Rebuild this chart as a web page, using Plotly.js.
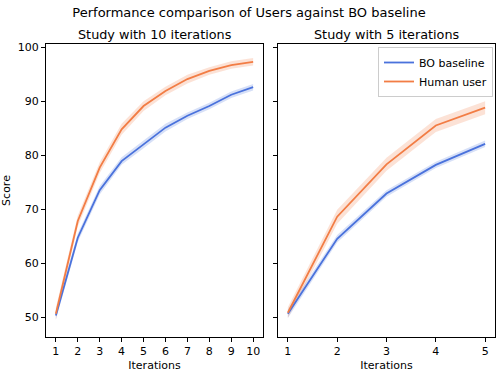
<!DOCTYPE html>
<html>
<head>
<meta charset="utf-8">
<script src="https://cdn.plot.ly/plotly-3.0.1.min.js"></script>
<style>
  body { margin: 0; }
  #chart { width: 498px; height: 374px; }
</style>
</head>
<body>
<div id="chart"></div>
<script>
// DATA
const iters10 = [1, 2, 3, 4, 5, 6, 7, 8, 9, 10]
const bo10 = [50.3, 64.7, 73.5, 78.9, 82.0, 85.1, 87.3, 89.1, 91.2, 92.6]
const bo10Err = [0.8, 0.8, 0.8, 0.7, 0.7, 0.7, 0.6, 0.6, 0.6, 0.6]
const human10 = [50.6, 67.8, 77.7, 84.8, 89.1, 91.9, 94.1, 95.6, 96.7, 97.3]
const human10Err = [1.1, 1.0, 1.0, 1.0, 0.9, 0.8, 0.8, 0.7, 0.7, 0.7]

const iters5 = [1, 2, 3, 4, 5]
const bo5 = [50.6, 64.5, 72.9, 78.2, 82.1]
const bo5Err = [0.8, 0.7, 0.6, 0.6, 0.6]
const human5 = [50.8, 68.6, 78.3, 85.5, 88.8]
const human5Err = [1.0, 1.3, 1.2, 1.2, 1.2]

const blue = '#4a72dc'
const orange = '#f27d45'
const blueFill = 'rgba(74,114,220,0.22)'
const orangeFill = 'rgba(242,125,69,0.22)'

function band(x, y, err, fillColor, xa, ya) {
  const upper = y.map((v, i) => v + err[i])
  const lower = y.map((v, i) => v - err[i])
  return [
    { x, y: upper, xaxis: xa, yaxis: ya, mode: 'lines', line: { width: 0 }, showlegend: false, hoverinfo: 'skip' },
    { x, y: lower, xaxis: xa, yaxis: ya, mode: 'lines', line: { width: 0 }, fill: 'tonexty', fillcolor: fillColor, showlegend: false, hoverinfo: 'skip' },
  ]
}

function line(x, y, color, name, xa, ya, legend) {
  return { x, y, xaxis: xa, yaxis: ya, mode: 'lines', name, line: { color, width: 1.8 }, showlegend: legend }
}

const traces = [
  ...band(iters10, bo10, bo10Err, blueFill, 'x', 'y'),
  ...band(iters10, human10, human10Err, orangeFill, 'x', 'y'),
  line(iters10, bo10, blue, 'BO baseline', 'x', 'y', true),
  line(iters10, human10, orange, 'Human user', 'x', 'y', true),
  ...band(iters5, bo5, bo5Err, blueFill, 'x2', 'y2'),
  ...band(iters5, human5, human5Err, orangeFill, 'x2', 'y2'),
  line(iters5, bo5, blue, 'BO baseline', 'x2', 'y2', false),
  line(iters5, human5, orange, 'Human user', 'x2', 'y2', false),
]

const axisStyle = {
  showline: true,
  mirror: true,
  linecolor: '#000',
  linewidth: 1,
  ticks: 'outside',
  ticklen: 4,
  tickcolor: '#000',
  showgrid: false,
  zeroline: false,
  tickfont: { size: 11, color: '#000' },
}

const yRange = [46.3, 100.6]

const layout = {
  width: 498,
  height: 374,
  margin: { l: 0, r: 0, t: 0, b: 0 },
  paper_bgcolor: '#fff',
  plot_bgcolor: '#fff',
  font: { family: 'DejaVu Sans, sans-serif', color: '#000' },
  title: {
    text: 'Performance comparison of Users against BO baseline',
    font: { size: 13 },
    x: 0.5,
    xanchor: 'center',
    y: 0.967,
    yanchor: 'middle',
  },
  xaxis: {
    ...axisStyle,
    domain: [46 / 498, 263 / 498],
    range: [0.55, 10.45],
    tickvals: iters10,
    title: { text: 'Iterations', font: { size: 11 }, standoff: 4 },
  },
  yaxis: {
    ...axisStyle,
    domain: [37 / 374, 330 / 374],
    range: yRange,
    tickvals: [50, 60, 70, 80, 90, 100],
    title: { text: 'Score', font: { size: 11 }, standoff: 6 },
  },
  xaxis2: {
    ...axisStyle,
    anchor: 'y2',
    domain: [278 / 498, 495 / 498],
    range: [0.8, 5.2],
    tickvals: iters5,
    title: { text: 'Iterations', font: { size: 11 }, standoff: 4 },
  },
  yaxis2: {
    ...axisStyle,
    anchor: 'x2',
    domain: [37 / 374, 330 / 374],
    range: yRange,
    tickvals: [50, 60, 70, 80, 90, 100],
    showticklabels: false,
  },
  annotations: [
    { text: 'Study with 10 iterations', x: (46 + 263) / 2 / 498, y: 330 / 374, xref: 'paper', yref: 'paper', xanchor: 'center', yanchor: 'bottom', showarrow: false, font: { size: 12.8 } },
    { text: 'Study with 5 iterations', x: (278 + 495) / 2 / 498, y: 330 / 374, xref: 'paper', yref: 'paper', xanchor: 'center', yanchor: 'bottom', showarrow: false, font: { size: 12.8 } },
  ],
  legend: {
    x: 493 / 498,
    xanchor: 'right',
    y: 327 / 374,
    yanchor: 'top',
    traceorder: 'normal',
    bordercolor: '#ccc',
    borderwidth: 1,
    bgcolor: 'rgba(255,255,255,0.8)',
    font: { size: 11 },
    tracegroupgap: 0,
  },
}

Plotly.newPlot('chart', traces, layout, { displayModeBar: false, staticPlot: true })
</script>
</body>
</html>
